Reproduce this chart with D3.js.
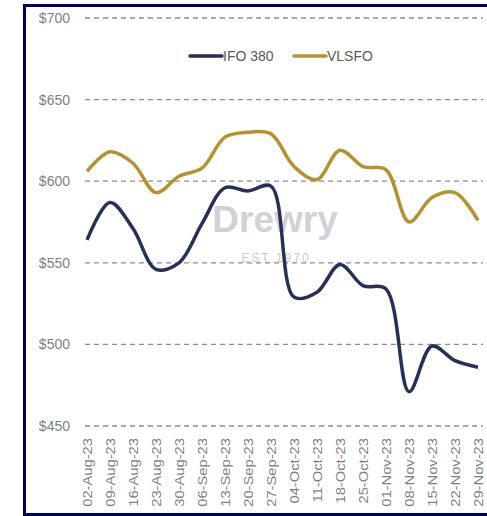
<!DOCTYPE html>
<html>
<meta charset="utf-8">
  <head>
    <script src="https://d3js.org/d3.v7.min.js"></script>
    <style>
      body { margin: 0; background: #fff; }
      text { font-family: "Liberation Sans", Arial, sans-serif; }
    </style>
  </head>
  <body>
    <div id="my_dataviz"></div>
    <script>

    // weekly prices, USD per tonne
    var dates = ["02-Aug-23","09-Aug-23","16-Aug-23","23-Aug-23","30-Aug-23","06-Sep-23",
                 "13-Sep-23","20-Sep-23","27-Sep-23","04-Oct-23","11-Oct-23","18-Oct-23",
                 "25-Oct-23","01-Nov-23","08-Nov-23","15-Nov-23","22-Nov-23","29-Nov-23"];
    var ifo380 = [564, 587, 571, 546, 550, 574, 596, 594, 597, 529, 532, 549, 536, 534, 471, 499, 490, 486];
    var vlsfo  = [606, 618, 611, 593, 603, 608, 627, 630, 629, 609, 601, 619, 609, 607, 575, 590, 593, 576];
    var yTicks = [450, 500, 550, 600, 650, 700];

    var W = 487, H = 516;
    var margin = {top: 18, right: 6, bottom: 90, left: 87},
        width = 480 - margin.left,
        height = 426 - margin.top;

    var svg = d3.select("#my_dataviz")
      .append("svg")
        .attr("width", W)
        .attr("height", H);

    // navy frame (open on the right)
    svg.append("path")
      .attr("d", "M487,5.5 H24.5 V514.5 H487")
      .attr("fill", "none")
      .attr("stroke", "#000066")
      .attr("stroke-width", 3);

    var g = svg.append("g")
      .attr("transform", "translate(" + margin.left + "," + margin.top + ")");

    var x = d3.scalePoint()
        .domain(dates)
        .range([0, 391]);

    var y = d3.scaleLinear()
        .domain([450, 700])
        .range([height, 0]);

    // gridlines
    g.selectAll(".grid")
      .data(yTicks)
      .enter()
      .append("line")
        .attr("x1", -2)
        .attr("x2", 396)
        .attr("y1", function(d) { return y(d); })
        .attr("y2", function(d) { return y(d); })
        .attr("stroke", "#8c8c8c")
        .attr("stroke-width", 1.3)
        .attr("stroke-dasharray", "5,4");

    // y axis labels
    var yAxis = g.append("g")
      .attr("transform", "translate(-14,0)")
      .call(d3.axisLeft(y).tickValues(yTicks).tickSize(0).tickFormat(function(d) { return "$" + d; }));
    yAxis.select(".domain").remove();
    yAxis.selectAll("text")
      .attr("fill", "#7f7f7f")
      .style("font-size", "14px");

    // x axis labels, rotated (the source image is a bit stretched vertically)
    var xAxis = g.append("g")
      .attr("transform", "translate(0," + (height + 12) + ")")
      .call(d3.axisBottom(x).tickSize(0));
    xAxis.select(".domain").remove();
    xAxis.selectAll("text")
      .attr("fill", "#7f7f7f")
      .style("font-size", "12.5px")
      .attr("text-anchor", "end")
      .attr("transform", "rotate(-90) scale(1.18,1)")
      .attr("x", 0)
      .attr("y", 0)
      .attr("dy", "0.35em");

    // watermark
    g.append("text")
      .attr("x", 188)
      .attr("y", 214)
      .attr("text-anchor", "middle")
      .attr("fill", "#c9cbd0")
      .attr("opacity", 0.85)
      .style("font-size", "37px")
      .style("font-weight", "bold")
      .text("Drewry");
    g.append("text")
      .attr("x", 189)
      .attr("y", 244)
      .attr("text-anchor", "middle")
      .attr("fill", "#c9cbd0")
      .style("font-size", "12px")
      .style("letter-spacing", "2px")
      .text("EST 1970");

    var line = d3.line()
      .x(function(d, i) { return x(dates[i]); })
      .y(function(d) { return y(d); })
      .curve(d3.curveCatmullRom.alpha(0.5));

    g.append("path")
      .datum(vlsfo)
      .attr("fill", "none")
      .attr("stroke", "#b8912f")
      .attr("stroke-width", 3.5)
      .attr("stroke-linejoin", "round")
      .attr("d", line);

    g.append("path")
      .datum(ifo380)
      .attr("fill", "none")
      .attr("stroke", "#25315a")
      .attr("stroke-width", 3.5)
      .attr("stroke-linejoin", "round")
      .attr("d", line);

    // legend
    var legend = [{name: "IFO 380", color: "#25315a", x: 190}, {name: "VLSFO", color: "#b8912f", x: 294}];
    var lg = svg.selectAll(".legend")
      .data(legend)
      .enter()
      .append("g")
        .attr("transform", function(d) { return "translate(" + d.x + ",56)"; });
    lg.append("line")
      .attr("x1", 0).attr("x2", 32)
      .attr("stroke", function(d) { return d.color; })
      .attr("stroke-width", 3.5)
      .attr("stroke-linecap", "round");
    lg.append("text")
      .attr("x", 33)
      .attr("dy", "0.35em")
      .attr("fill", "#595959")
      .style("font-size", "14px")
      .text(function(d) { return d.name; });

    </script>
  </body>
</html>
